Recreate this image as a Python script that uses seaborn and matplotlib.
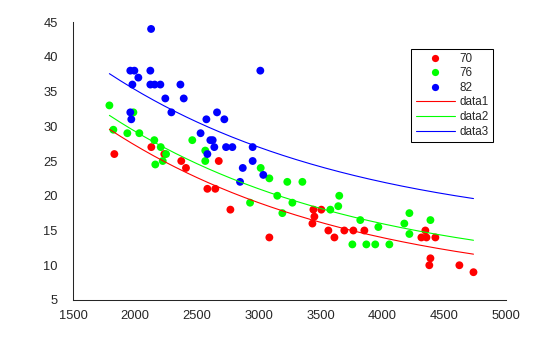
import numpy as np
import pandas as pd
import matplotlib
matplotlib.use("Agg")
import matplotlib.pyplot as plt
import seaborn as sns
from matplotlib.lines import Line2D

# Car weight (lb) and fuel economy (MPG) by model year
weight_70 = [1834, 2133, 2238, 2375, 2413, 2678, 2586, 2650, 2772, 3087, 3443, 3507,
             3451, 3435, 3564, 3613, 3693, 3766, 3855, 4348, 4316, 4357, 4429, 4389,
             4380, 4623, 4737]
mpg_70 = [26, 27, 26, 25, 24, 25, 21, 21, 18, 14, 18, 18,
          17, 16, 15, 14, 15, 15, 15, 15, 14, 14, 14, 11,
          10, 10, 9]

weight_76 = [1794, 1988, 1826, 1939, 2036, 2157, 2209, 2252, 2165, 2225, 2464, 2569,
             2569, 3017, 3087, 3232, 3354, 3151, 3273, 2931, 3192, 3580, 3644, 3652,
             3822, 3968, 3758, 3871, 3943, 4057, 4219, 4178, 4219, 4389]
mpg_76 = [33, 32, 29.5, 29, 29, 28, 27, 26, 24.5, 25, 28, 26.5,
          25, 24, 22.5, 22, 22, 20, 19, 19, 17.5, 18, 18.5, 20,
          16.5, 15.5, 13, 13, 13, 13, 17.5, 16, 14.5, 16.5]

weight_82 = [2131, 1963, 1996, 2028, 1980, 2125, 2125, 2160, 2206, 2368, 2246, 2395,
             1963, 2295, 1971, 2664, 2578, 2723, 3014, 2531, 2610, 2629, 2586, 2642,
             2737, 2788, 2952, 2952, 2872, 3038, 2850]
mpg_82 = [44, 38, 38, 37, 36, 38, 36, 36, 36, 36, 34, 34,
          32, 32, 31, 32, 31, 31, 38, 29, 28, 28, 26, 27,
          27, 27, 27, 25, 24, 23, 22]

years = ["70", "76", "82"]
colors = {"70": (1, 0, 0), "76": (0, 1, 0), "82": (0, 0, 1)}

# Fitted model: MPG = a * exp(-b * weight/1000) + c_year
fit_a = 57.2
fit_b = 0.5
fit_c = {"70": 6.24, "76": 8.24, "82": 14.24}

df = pd.DataFrame({
    "Weight": weight_70 + weight_76 + weight_82,
    "MPG": mpg_70 + mpg_76 + mpg_82,
    "Year": ["70"] * len(weight_70) + ["76"] * len(weight_76) + ["82"] * len(weight_82),
})

sns.set_style("white")
plt.rcParams["font.family"] = ["Liberation Sans", "DejaVu Sans"]

fig = plt.figure(figsize=(5.6, 3.37), dpi=100)
ax = fig.add_axes([0.1304, 0.1098, 0.7732, 0.8249])

sns.scatterplot(data=df, x="Weight", y="MPG", hue="Year", hue_order=years,
                palette=colors, s=32, linewidth=0, legend=False, ax=ax, zorder=2)

w = np.linspace(df["Weight"].min(), df["Weight"].max(), 200)
for yr in years:
    fit_df = pd.DataFrame({"w": w, "m": fit_a * np.exp(-fit_b * w / 1000) + fit_c[yr]})
    sns.lineplot(data=fit_df, x="w", y="m", color=colors[yr], linewidth=0.8,
                 ax=ax, zorder=3)

ax.set_xlim(1500, 5000)
ax.set_ylim(5, 45)
ax.set_xticks(np.arange(1500, 5001, 500))
ax.set_yticks(np.arange(5, 46, 5))
ax.set_xlabel("")
ax.set_ylabel("")

axcol = "#262626"
for side in ["top", "right"]:
    ax.spines[side].set_visible(False)
for side in ["left", "bottom"]:
    ax.spines[side].set_color(axcol)
    ax.spines[side].set_linewidth(0.75)
ax.tick_params(direction="in", length=3.5, width=0.75, colors=axcol,
               labelsize=9.3, labelcolor=axcol)
ax.tick_params(axis="x", pad=7.5)
ax.tick_params(axis="y", pad=11)

handles = [Line2D([], [], marker="o", ls="", color=colors[yr], markersize=5.2,
                  markeredgewidth=0) for yr in years]
handles += [Line2D([], [], color=colors[yr], linewidth=0.8) for yr in years]
labels = years + ["data1", "data2", "data3"]
leg = ax.legend(handles, labels, loc="upper right", bbox_to_anchor=(0.969, 0.904),
                borderaxespad=0, fontsize=8.4, handlelength=3.4, handletextpad=0.35,
                labelspacing=0.22, borderpad=0.35, fancybox=False, edgecolor="black",
                framealpha=1)
leg.get_frame().set_linewidth(0.75)

fig.savefig("out.png", dpi=100)
